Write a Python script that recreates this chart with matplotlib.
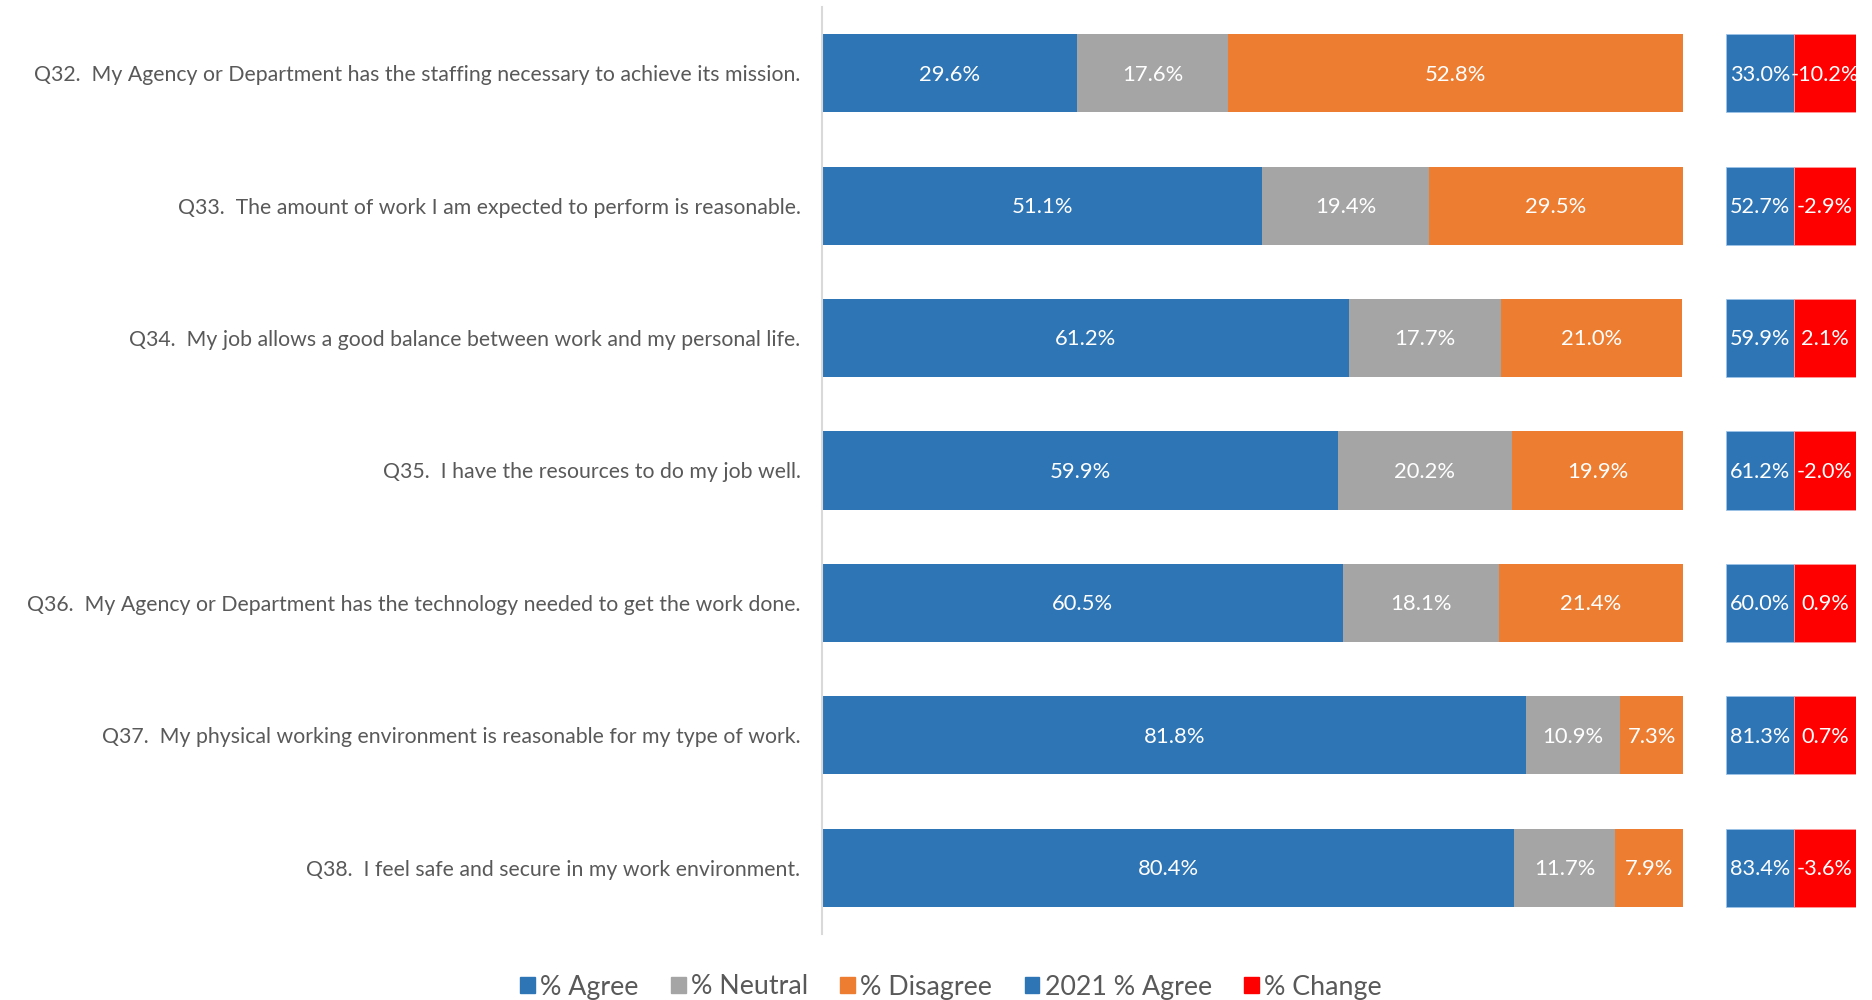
import matplotlib.pyplot as plt
import matplotlib as mpl
from matplotlib.patches import Patch

mpl.rc('font', family=['Lato', 'DejaVu Sans'])

questions = [
    'Q32.  My Agency or Department has the staffing necessary to achieve its mission.',
    'Q33.  The amount of work I am expected to perform is reasonable.',
    'Q34.  My job allows a good balance between work and my personal life.',
    'Q35.  I have the resources to do my job well.',
    'Q36.  My Agency or Department has the technology needed to get the work done.',
    'Q37.  My physical working environment is reasonable for my type of work.',
    'Q38.  I feel safe and secure in my work environment.',
]
agree = [29.6, 51.1, 61.2, 59.9, 60.5, 81.8, 80.4]
neutral = [17.6, 19.4, 17.7, 20.2, 18.1, 10.9, 11.7]
disagree = [52.8, 29.5, 21.0, 19.9, 21.4, 7.3, 7.9]
agree_2021 = [33.0, 52.7, 59.9, 61.2, 60.0, 81.3, 83.4]
change = [-10.2, -2.9, 2.1, -2.0, 0.9, 0.7, -3.6]

blue = '#2E75B6'
grey = '#A5A5A5'
orange = '#ED7D31'
red = '#FF0000'
txt = '#595959'

fig = plt.figure(figsize=(18.72, 10), dpi=100)

ax = fig.add_axes([822/1872, 1-934/1000, 861/1872, 927/1000])
ypos = list(range(len(questions)))
bh = 0.59
left = [0]*len(questions)
for vals, col in [(agree, blue), (neutral, grey), (disagree, orange)]:
    ax.barh(ypos, vals, left=left, height=bh, color=col, edgecolor='none')
    for y, v, l in zip(ypos, vals, left):
        ax.text(l + v/2, y + 0.01, '%.1f%%' % v, ha='center', va='center',
                color='white', fontsize=15.8)
    left = [a + b for a, b in zip(left, vals)]
ax.set_xlim(0, 100)
ax.set_ylim(len(questions)-0.5, -0.5)
ax.set_yticks(ypos)
ax.set_yticklabels(questions, fontsize=15.3, color=txt)
ax.tick_params(axis='y', length=0, pad=15.5)
ax.set_xticks([])
for s in ['top', 'right', 'bottom']:
    ax.spines[s].set_visible(False)
ax.spines['left'].set_color('#D9D9D9')
ax.spines['left'].set_linewidth(1.5)

# right-hand boxes: 2021 agree and change
ax2 = fig.add_axes([1726/1872, 1-934/1000, 130/1872, 927/1000])
w1, w2 = 0.523, 0.477
ax2.barh(ypos, [w1]*len(ypos), height=bh, color=blue, edgecolor='#9DC3E6', linewidth=0.6)
ax2.barh(ypos, [w2]*len(ypos), left=w1, height=bh, color=red, edgecolor='#FF9999', linewidth=0.6)
for y, a, c in zip(ypos, agree_2021, change):
    ax2.text(w1/2, y + 0.01, '%.1f%%' % a, ha='center', va='center', color='white', fontsize=15.6)
    ax2.text(w1 + w2/2, y + 0.01, '%.1f%%' % c, ha='center', va='center', color='white', fontsize=15.6)
ax2.set_xlim(0, 1)
ax2.set_ylim(len(questions)-0.5, -0.5)
ax2.axis('off')

handles = [Patch(color=blue, label='% Agree'), Patch(color=grey, label='% Neutral'),
           Patch(color=orange, label='% Disagree'), Patch(color=blue, label='2021 % Agree'),
           Patch(color=red, label='% Change')]
fig.legend(handles=handles, loc='center', bbox_to_anchor=(951/1872, 1-987/1000), ncol=5,
           frameon=False, fontsize=19.3, labelcolor=txt, handlelength=0.55, handleheight=0.55,
           handletextpad=0.2, columnspacing=1.2)

plt.savefig('out.png', dpi=100)
